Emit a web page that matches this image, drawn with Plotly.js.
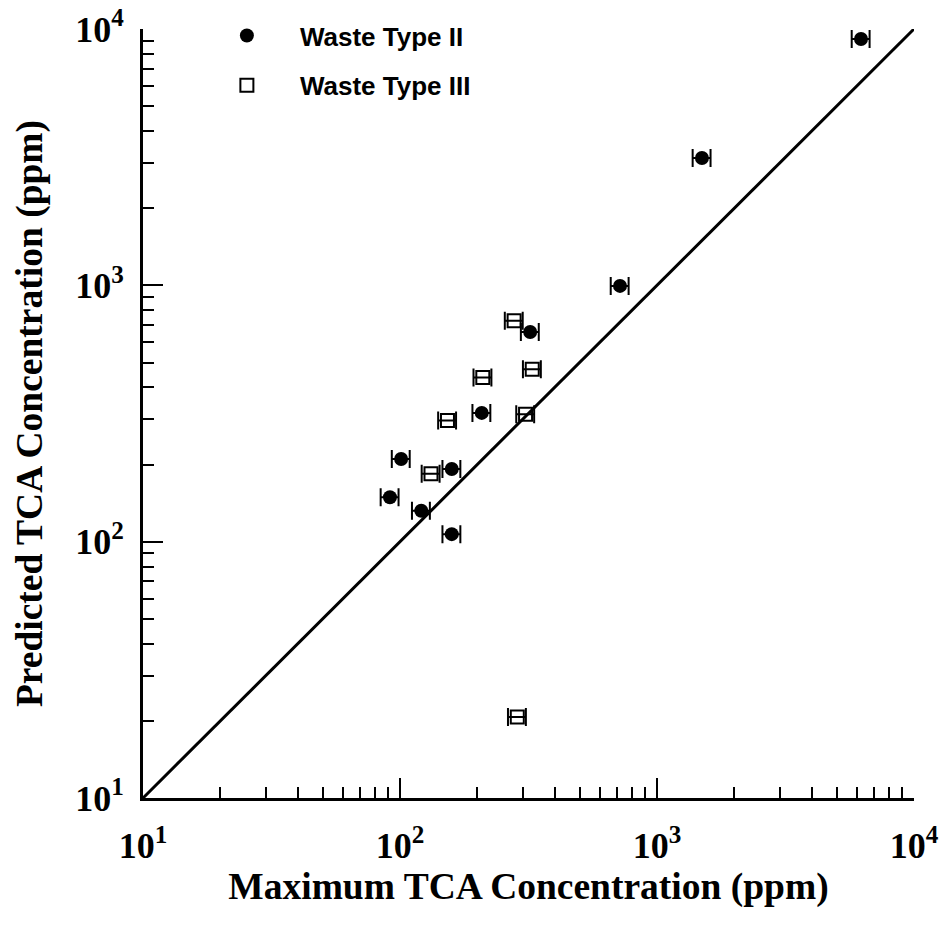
<!DOCTYPE html>
<html>
<head>
<meta charset="utf-8">
<script src="https://cdn.plot.ly/plotly-3.0.1.min.js"></script>
<style>html,body{margin:0;padding:0;background:#fff;}#chart{width:942px;height:938px;}</style>
</head>
<body>
<div id="chart"></div>
<script>
// Waste Type II (filled circles)
var type2X = [6220, 1496, 718, 321, 208, 101, 159, 91.4, 121, 159];
var type2Y = [9140, 3140, 995, 658, 318, 210, 192, 149, 132, 107];
// Waste Type III (open squares)
var type3X = [278, 327, 210, 153, 308, 132, 286];
var type3Y = [728, 471, 437, 297, 314, 184, 20.7];
// 1:1 line
var lineX = [10, 10000];
var lineY = [10, 10000];
// axis ticks
var tickVals = [10, 100, 1000, 10000];
var tickText = ['10<sup>1</sup>', '10<sup>2</sup>', '10<sup>3</sup>', '10<sup>4</sup>'];
var errPercent = 8;

var minorVals = [];
for (var d = 10; d < 10000; d *= 10) { for (var k = 2; k <= 9; k++) minorVals.push(d * k); }

var errStyle = {type: 'percent', value: errPercent, symmetric: true, color: '#000', thickness: 2, width: 9};

var traces = [
  {x: lineX, y: lineY, mode: 'lines', line: {color: '#000', width: 3}, showlegend: false, hoverinfo: 'skip'},
  {x: type2X, y: type2Y, mode: 'markers', name: 'Waste Type II', legendgroup: 'a',
   marker: {symbol: 'circle', size: 14, color: '#000'}, error_x: errStyle, cliponaxis: false},
  {x: type3X, y: type3Y, mode: 'markers', name: 'Waste Type III', legendgroup: 'b',
   marker: {symbol: 'square-open', size: 13, color: '#000', line: {width: 2, color: '#000'}}, error_x: errStyle, cliponaxis: false}
];

var serif = 'Liberation Serif, Times New Roman, serif';
var axisCommon = {
  type: 'log', range: [1, 4], tickmode: 'array', tickvals: tickVals, ticktext: tickText,
  ticks: 'inside', ticklen: 20, tickwidth: 2, tickcolor: '#000',
  showline: true, linecolor: '#000', linewidth: 3, showgrid: false, zeroline: false,
  tickfont: {family: serif, size: 36, color: '#000', weight: 'bold'},
  minor: {tickmode: 'array', tickvals: minorVals, ticks: 'inside', ticklen: 11, tickwidth: 2, tickcolor: '#000', showgrid: false}
};

var layout = {
  width: 942, height: 938,
  margin: {l: 143, r: 28, t: 29, b: 140},
  paper_bgcolor: '#fff', plot_bgcolor: '#fff',
  showlegend: true,
  legend: {x: 0.066, y: 1.022, xanchor: 'left', yanchor: 'top', bgcolor: 'rgba(0,0,0,0)',
    font: {family: 'Liberation Sans, Arial, sans-serif', size: 26, color: '#000', weight: 'bold'},
    traceorder: 'grouped', tracegroupgap: 13, itemwidth: 96},
  xaxis: Object.assign({}, axisCommon, {
    ticklabelstandoff: 14,
    title: {text: 'Maximum TCA Concentration (ppm)', standoff: 8,
      font: {family: serif, size: 37.5, color: '#000', weight: 'bold'}}
  }),
  yaxis: Object.assign({}, axisCommon, {
    ticklabelstandoff: 9,
    title: {text: 'Predicted TCA Concentration (ppm)', standoff: 22,
      font: {family: serif, size: 37.5, color: '#000', weight: 'bold'}}
  })
};

Plotly.newPlot('chart', traces, layout, {displayModeBar: false, staticPlot: true});
</script>
</body>
</html>
